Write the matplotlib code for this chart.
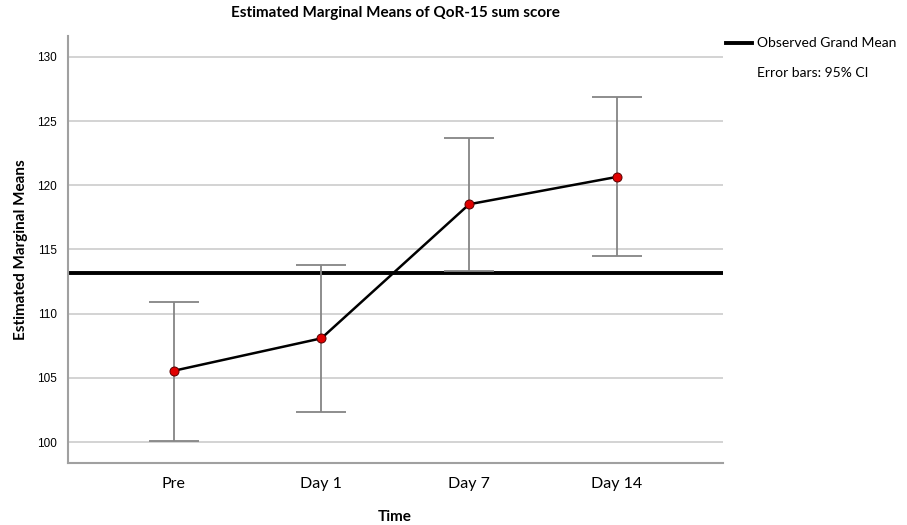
import matplotlib
matplotlib.use('Agg')
from matplotlib import pyplot as plt
import numpy as np

# data
time_points = ['Pre', 'Day 1', 'Day 7', 'Day 14']
means = [105.55, 108.08, 118.52, 120.65]
ci_low = [100.1, 102.38, 113.33, 114.47]
ci_high = [110.94, 113.8, 123.7, 126.9]
grand_mean = 113.15
y_ticks = [100, 105, 110, 115, 120, 125, 130]


def plot_means():
    ''' Draw estimated marginal means with 95% CI error bars
    '''
    fig = plt.figure(figsize=(9.07, 5.25), dpi=100)
    ax = fig.add_axes([0.0746, 0.1187, 0.7224, 0.8123])
    x = np.arange(len(time_points))
    m = np.array(means)
    yerr = np.array([m - np.array(ci_low), np.array(ci_high) - m])

    ax.set_xlim(-0.716, 3.716)
    ax.set_ylim(98.4, 131.6)
    ax.set_yticks(y_ticks)
    ax.yaxis.grid(True, color='#c8c8c8', linewidth=1.1)
    ax.set_axisbelow(True)

    ax.axhline(grand_mean, color='black', linewidth=2.8, zorder=2)
    ax.errorbar(x, m, yerr=yerr, fmt='none', ecolor='#858585',
                elinewidth=1.3, capsize=18, capthick=1.3, zorder=3)
    ax.plot(x, m, color='black', linewidth=1.8, zorder=4)
    ax.plot(x, m, 'o', markersize=6.5, markerfacecolor='#e00000',
            markeredgecolor='#5a0000', markeredgewidth=0.7, zorder=5)

    ax.set_xticks(x)
    ax.set_xticklabels(time_points, fontsize=11.5, family='Lato')
    for lab in ax.get_yticklabels():
        lab.set_family('Liberation Sans')
        lab.set_fontsize(8.5)
    ax.tick_params(length=0, pad=8)
    ax.tick_params(axis='x', pad=10)

    for side in ['top', 'right']:
        ax.spines[side].set_visible(False)
    for side in ['left', 'bottom']:
        ax.spines[side].set_color('#a0a0a0')
        ax.spines[side].set_linewidth(1.5)

    ax.set_ylabel('Estimated Marginal Means', fontsize=11,
                  fontweight='bold', family='Lato', labelpad=6)
    fig.text(0.4355, 1-517/525, 'Time', fontsize=11, fontweight='bold',
             family='Lato', ha='center', va='center')
    ax.set_title('Estimated Marginal Means of QoR-15 sum score',
                 fontsize=11, fontweight='bold', family='Lato', pad=14)

    # legend block outside the axes
    fig.lines.append(plt.Line2D([726/907, 752/907], [1-43/525, 1-43/525],
                                transform=fig.transFigure, color='black',
                                linewidth=2.8))
    fig.text(757/907, 1-43/525, 'Observed Grand Mean', fontsize=10,
             family='Lato', va='center')
    fig.text(757/907, 1-73/525, 'Error bars: 95% CI', fontsize=10,
             family='Lato', va='center')

    plt.savefig('out.png', dpi=100)


if __name__ == "__main__":
    plot_means()
